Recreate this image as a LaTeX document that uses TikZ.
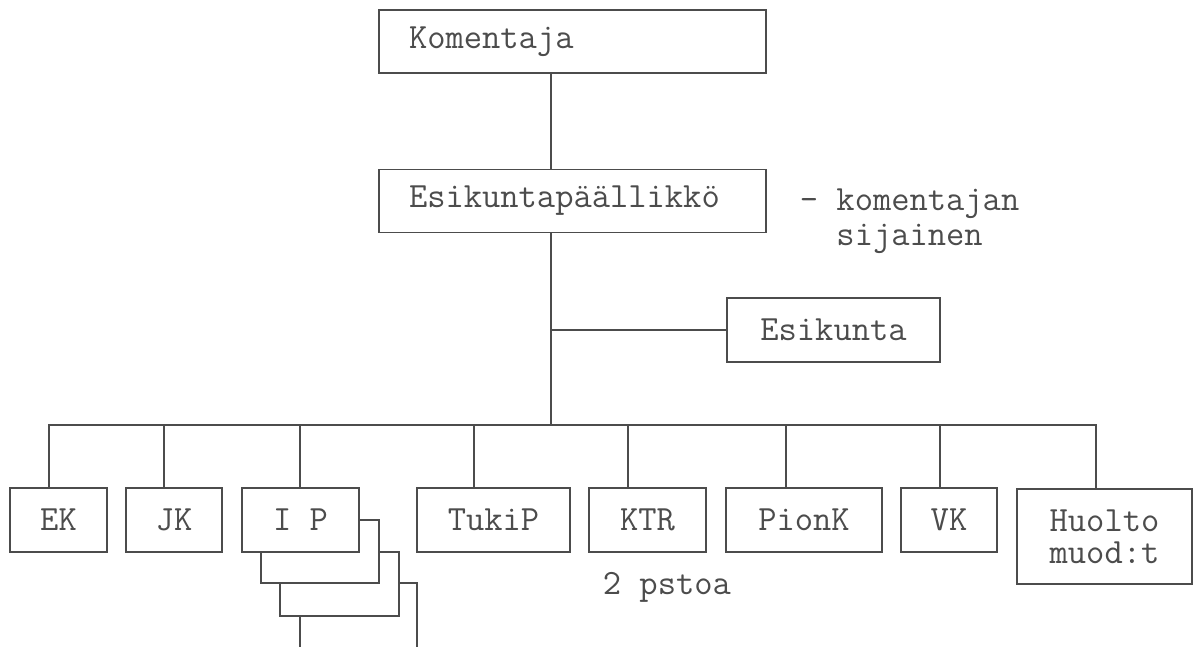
\documentclass[tikz,border=0pt]{standalone}
\usepackage{fontspec}
\definecolor{ink}{gray}{0.3}

\begin{document}
\begin{tikzpicture}[
   x=1pt, y=-1pt, line width=1.8pt, color=ink,
   font=\ttfamily\fontsize{35.5}{32}\selectfont,
   unit/.style={draw, fill=white, inner sep=0pt, minimum height=64pt},
   head/.style={unit, minimum height=63pt, text width=327pt, inner xsep=30pt, align=left},
   note/.style={anchor=base west, inner sep=0pt, text height=20pt, text depth=6pt}
]
   \useasboundingbox (0,0) rectangle (1199,647);

   \node[head] (kom) at (572.5,41.5) {Komentaja};
   \node[head] (esp) at (572.5,201) {Esikuntapäällikkö};
   \node[note] (sij1) at (799,211) {- komentajan};
   \node[note] (sij2) at ([yshift=-34pt]sij1.base west) {\phantom{- }sijainen};
   \node[unit, minimum width=213pt] (esk) at (833.5,330) {Esikunta};
   \coordinate (bar) at (551,425);

   \node[unit, minimum width=97pt] (ek) at (58.5,520) {EK};
   \node[unit, minimum width=96pt] (jk) at (174,520) {JK};
   \node[unit, minimum width=117pt, minimum height=70pt] (ipd) at (358.5,618) {};
   \node[unit, minimum width=119pt] (ipc) at (339.5,584) {};
   \node[unit, minimum width=118pt, minimum height=63pt] (ipb) at (320,551.5) {};
   \node[unit, minimum width=117pt] (ip) at (300.5,520) {I P};
   \node[unit, minimum width=153pt] (tukip) at (493.5,520) {TukiP};
   \node[unit, minimum width=117pt] (ktr) at (647.5,520) {KTR};
   \node[unit, minimum width=156pt] (pionk) at (804,520) {PionK};
   \node[unit, minimum width=96pt] (vk) at (949,520) {VK};
   \node[unit, minimum width=175pt, minimum height=95pt, align=center] (huolto) at (1104.5,536.5) {Huolto\\muod:t};
   \node[note] (pst) at (602,594) {2 pstoa};

   \draw (kom.south -| bar) -- (esp.north -| bar);
   \draw (esp.south -| bar) -- (bar);
   \draw (esk.west) -- (esk.west -| bar);
   \foreach \n/\dx in {ek/-9.5, jk/-10, ip/-0.5, tukip/-19.5, ktr/-19.5, pionk/-18, vk/-9, huolto/-8.5}
      \draw ([xshift=\dx pt]\n.north) |- (bar);
\end{tikzpicture}
\end{document}
